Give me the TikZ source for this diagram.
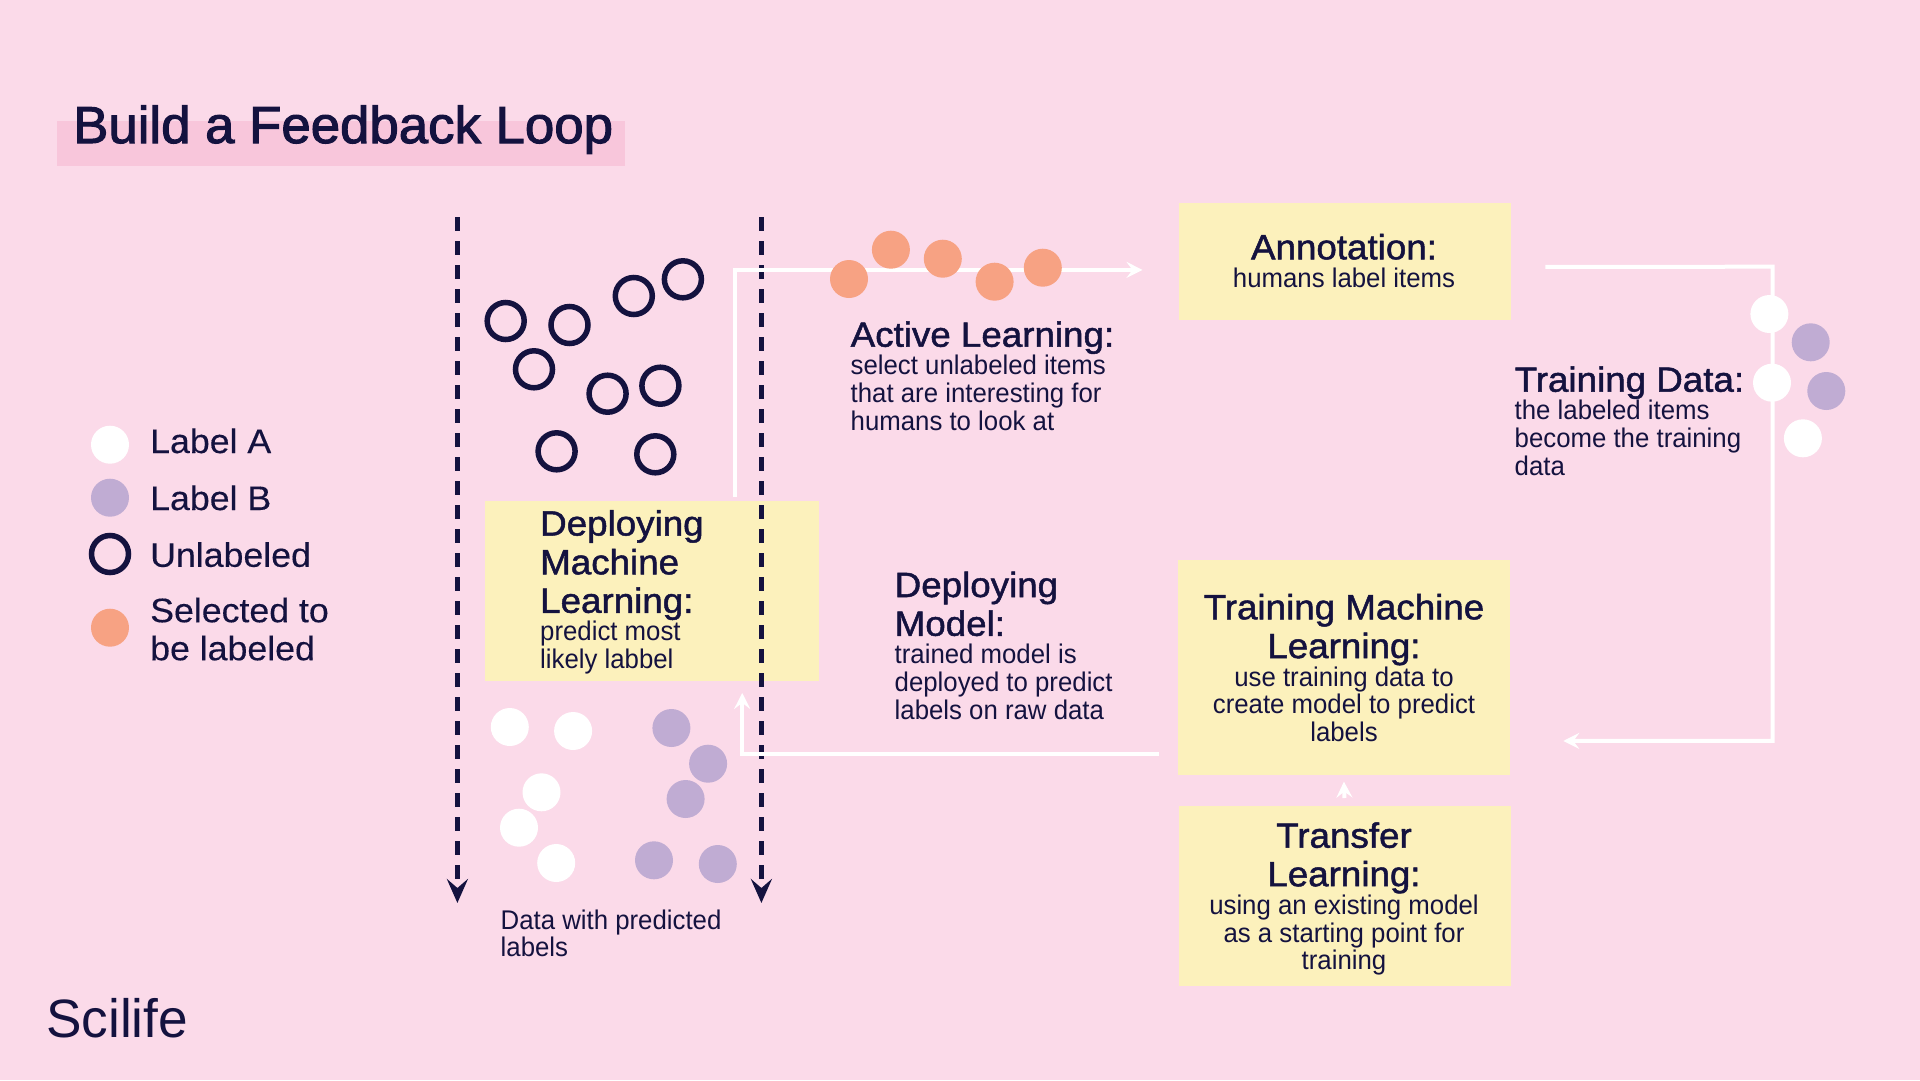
\documentclass[tikz,border=0pt]{standalone}
\usepackage{fontspec}
\usepackage{array}
\usetikzlibrary{arrows.meta}
\setmainfont{Liberation Sans}
\newfontfamily\hfam[FakeBold=1.4,FakeStretch=1.05]{Liberation Sans}
\newfontfamily\bfam[FakeStretch=0.955]{Liberation Sans}
\newfontfamily\tfam[FakeBold=2,FakeStretch=1.015]{Liberation Sans}
\newfontfamily\lfam[FakeStretch=0.985]{Liberation Sans}
\newfontfamily\gfam[FakeBold=0.3,FakeStretch=1.05]{Liberation Sans}
\definecolor{bgpink}{HTML}{FBDAE9}
\definecolor{bandpink}{HTML}{F8C6DB}
\definecolor{boxyellow}{HTML}{FCF1BC}
\definecolor{navy}{HTML}{14123F}
\definecolor{orangedot}{HTML}{F7A283}
\definecolor{purpledot}{HTML}{C0ACD3}
\newcommand{\hl}[1]{{\hfam\fontsize{35}{35}\selectfont\rule[-7pt]{0pt}{38.5pt}#1}}
\newcommand{\bl}[1]{{\bfam\fontsize{27}{27}\selectfont\rule[-7pt]{0pt}{27.8pt}#1}}
\newcommand{\lgd}[1]{{\gfam\fontsize{34}{34}\selectfont\rule[-10pt]{0pt}{38pt}#1}}
\newcommand{\blockL}[1]{\renewcommand{\arraystretch}{0}\begin{tabular}[t]{@{}l@{}}#1\end{tabular}}
\newcommand{\blockC}[1]{\renewcommand{\arraystretch}{0}\begin{tabular}[t]{@{}c@{}}#1\end{tabular}}
\tikzset{
  x=1pt,y=-1pt,
  yellowbox/.style={fill=boxyellow,draw=none,inner sep=0pt,anchor=north west},
  txtL/.style={inner sep=0pt,anchor=base west,text=navy},
  txtC/.style={inner sep=0pt,anchor=base,text=navy},
  dotw/.style={circle,fill=white,draw=none,minimum size=38pt,inner sep=0pt},
  dotp/.style={circle,fill=purpledot,draw=none,minimum size=38pt,inner sep=0pt},
  doto/.style={circle,fill=orangedot,draw=none,minimum size=38pt,inner sep=0pt},
  doth/.style={circle,draw=navy,line width=5.5pt,fill=none,minimum size=37pt,inner sep=0pt},
  flow/.style={draw=white,line width=4pt,-{Stealth[length=16pt,width=16pt,inset=6pt]}},
  dashline/.style={draw=navy,line width=5.5pt,dash pattern=on 13.5pt off 10.5pt,-{Stealth[length=24pt,width=21pt,inset=9pt]}},
}
\begin{document}
\begin{tikzpicture}
\useasboundingbox (0,0) rectangle (1920,1080);
\fill[bgpink] (0,0) rectangle (1920,1080);
\fill[bandpink] (57,121) rectangle (625,166);
\node[txtL] (title) at (73,143) {\tfam\fontsize{52}{52}\selectfont Build a Feedback Loop};
\node[txtL] (logo) at (46,1037) {\lfam\fontsize{54}{54}\selectfont Scilife};

% boxes
\node[yellowbox,minimum width=334pt,minimum height=180pt] (deploy) at (485.2,501.2) {};
\node[yellowbox,minimum width=332.4pt,minimum height=117.3pt] (annot) at (1178.5,202.7) {};
\node[yellowbox,minimum width=332.4pt,minimum height=214.5pt] (train) at (1177.5,560) {};
\node[yellowbox,minimum width=332.4pt,minimum height=180pt] (transfer) at (1178.5,806) {};

% dashed lines
\coordinate (d1s) at (457.4,217);
\coordinate (d1e) at (457.4,903);
\coordinate (d2s) at (761.4,217);
\coordinate (d2e) at (761.4,903);
\draw[dashline] (d1s) -- (d1e);
\draw[dashline] (d2s) -- (d2e);

% connectors
\coordinate (loopc) at (1772.6,266.7);
\draw[flow] ([xshift=83pt,yshift=4.5pt]deploy.north) |- ([xshift=-36pt,yshift=-8.35pt]annot.west);
\draw[flow] ([xshift=-19pt,yshift=-87pt]train.west) -| ([xshift=89.8pt,yshift=-11.3pt]deploy.south);
\draw[flow] ([xshift=34pt,yshift=-5.35pt]annot.east) -- (loopc) |- ([xshift=53pt,yshift=-73.5pt]train.east);
\draw[flow] ([xshift=-0.5pt,yshift=8pt]transfer.north) -- ([yshift=-6.7pt]train.south);

% unlabeled
\foreach \x/\y [count=\i] in {505.7/321,569.5/325,633.8/296,682.9/279.3,534/369.3,607.6/393.7,660.4/385.7,556.6/451.3,655.3/454.3}
  \node[doth] (un\i) at (\x,\y) {};
% orange
\foreach \x/\y [count=\i] in {849/279,890.9/249.7,942.8/258.7,994.6/281.7,1042.8/267.7}
  \node[doto] (or\i) at (\x,\y) {};
% white
\foreach \x/\y [count=\i] in {509.8/727,573.1/731,541.5/792.3,519/827.7,556.2/863,1769.4/314,1772/382.7,1802.9/438.3}
  \node[dotw] (wh\i) at (\x,\y) {};
% purple
\foreach \x/\y [count=\i] in {671.4/728,708.1/763.7,685.6/799,654/860.3,717.8/864,1810.7/342.3,1826.3/391}
  \node[dotp] (pu\i) at (\x,\y) {};

% legend
\node[dotw] (lega) at (110,444.7) {};
\node[dotp] (legb) at (110,497.7) {};
\node[doth] (legu) at (110,554) {};
\node[doto] (legs) at (110,627.7) {};
\node[txtL] (lta) at (150,453) {\lgd{Label A}};
\node[txtL] (ltb) at (150,510) {\lgd{Label B}};
\node[txtL] (ltu) at (150,566.8) {\lgd{Unlabeled}};
\node[txtL] (lts) at (150,622.2) {\blockL{\lgd{Selected to}\\\lgd{be labeled}}};

% texts
\node[txtL] (tdeploy) at (540,535.5) {\blockL{\hl{Deploying}\\\hl{Machine}\\\hl{Learning:}\\\bl{predict most}\\\bl{likely labbel}}};
\node[txtL] (tactive) at (850.5,346.7) {\blockL{\hl{Active Learning:}\\\bl{select unlabeled items}\\\bl{that are interesting for}\\\bl{humans to look at}}};
\node[txtL] (tmodel) at (894.5,597) {\blockL{\hl{Deploying}\\\hl{Model:}\\\bl{trained model is}\\\bl{deployed to predict}\\\bl{labels on raw data}}};
\node[txtL] (tdata) at (500.5,929) {\blockL{\bl{Data with predicted}\\\bl{labels}}};
\node[txtC] (tannot) at (1344,259.3) {\blockC{\hl{Annotation:}\\\bl{humans label items}}};
\node[txtL] (ttdata) at (1514.5,391.7) {\blockL{\hl{Training Data:}\\\bl{the labeled items}\\\bl{become the training}\\\bl{data}}};
\node[txtC] (ttrain) at (1344,619.3) {\blockC{\hl{Training Machine}\\\hl{Learning:}\\\bl{use training data to}\\\bl{create model to predict}\\\bl{labels}}};
\node[txtC] (ttransfer) at (1344,847.7) {\blockC{\hl{Transfer}\\\hl{Learning:}\\\bl{using an existing model}\\\bl{as a starting point for}\\\bl{training}}};
\end{tikzpicture}
\end{document}
